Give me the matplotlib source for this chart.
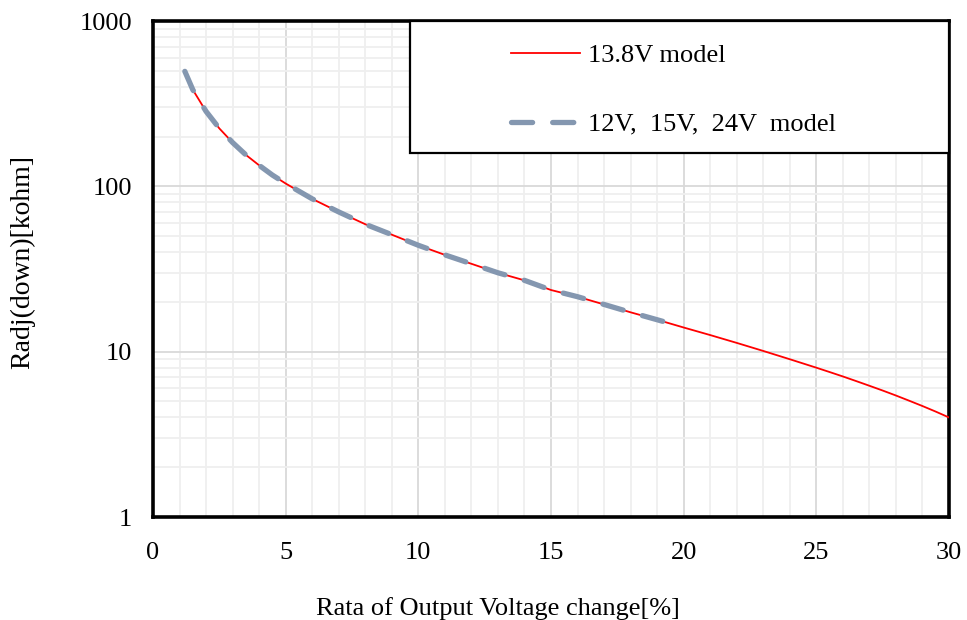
import matplotlib
matplotlib.use("Agg")
import matplotlib.pyplot as plt
from matplotlib.patches import Rectangle
from matplotlib.ticker import MultipleLocator, LogLocator, FixedLocator, NullFormatter

plt.rcParams['font.family'] = ['Liberation Serif', 'DejaVu Serif']

# Data
x_138 = [1.2, 1.5, 2, 2.5, 3, 3.5, 4, 4.5, 5, 6, 7, 8, 9, 10, 11, 12, 13, 14, 15,
         16, 17, 18, 19, 20, 21, 22, 23, 24, 25, 25.5, 26, 26.5, 27, 27.5, 28,
         28.5, 29, 29.5, 30]
r_138 = [496, 384, 284, 224, 184, 155, 134, 117, 104, 84, 70, 59, 51, 44, 38.5, 34,
         30, 27, 23.6, 21.5, 19.3, 17.3, 15.6, 14, 12.6, 11.3, 10.1, 9.0, 8.0, 7.53,
         7.08, 6.64, 6.22, 5.82, 5.43, 5.05, 4.69, 4.34, 4.0]
x_other = [1.2, 1.5, 2, 2.5, 3, 3.5, 4, 4.5, 5, 6, 7, 8, 9, 10, 11, 12, 13, 14, 15,
           16, 17, 18, 19, 19.5]
r_other = [496, 384, 284, 224, 184, 155, 134, 117, 104, 84, 70, 59, 51, 44, 38.5, 34,
           30, 27, 23.6, 21.5, 19.3, 17.3, 15.6, 14.8]

label_138 = "13.8V model"
label_other = "12V,  15V,  24V  model"
x_ticks = [0, 5, 10, 15, 20, 25, 30]
y_ticks = [1, 10, 100, 1000]

FS = 19

fig = plt.figure(figsize=(9.67, 6.2), dpi=100)
ax = fig.add_axes([153/967, 103/620, 796/967, 496/620])

ax.set_yscale('log')
ax.set_xlim(0, 30)
ax.set_ylim(1, 1000)

ax.xaxis.set_major_locator(FixedLocator(x_ticks))
ax.xaxis.set_minor_locator(MultipleLocator(1))
ax.yaxis.set_major_locator(FixedLocator(y_ticks))
ax.yaxis.set_minor_locator(LogLocator(base=10, subs=range(2, 10)))
ax.yaxis.set_minor_formatter(NullFormatter())
ax.set_yticklabels([str(v) for v in y_ticks])
ax.set_xticklabels([str(v) for v in x_ticks])

ax.grid(which='minor', color='#efefef', linewidth=1.3, zorder=0)
ax.grid(which='major', color='#d9d9d9', linewidth=1.3, zorder=0)
ax.set_axisbelow(True)
ax.tick_params(which='both', length=0)
ax.tick_params(axis='x', labelsize=FS, pad=18)
ax.tick_params(axis='y', labelsize=FS, pad=15)

for s in ax.spines.values():
    s.set_linewidth(2.6)
    s.set_color('black')

l1, = ax.plot(x_138, r_138, color='#ff0000', linewidth=1.3, zorder=3)
l2, = ax.plot(x_other, r_other, color='#8497b0', linewidth=3.8, zorder=4,
              linestyle=(0, (4.0, 3.8)), dash_capstyle='round',
              solid_capstyle='round')

# legend box
ax.add_patch(Rectangle((257/796, 364/496), 539/796, 132/496, transform=ax.transAxes,
                       facecolor='white', edgecolor='black', linewidth=1.6,
                       zorder=5, clip_on=False))
leg = ax.legend([l1, l2], [label_138, label_other], loc='upper left',
                bbox_to_anchor=((511-153)/796, (517-44)/496), frameon=False,
                fontsize=FS, handlelength=2.6, handletextpad=0.3,
                labelspacing=1.7, borderpad=0, borderaxespad=0)
leg.set_zorder(6)

fig.text(498/967, 1 - 609/620, "Rata of Output Voltage change[%]", fontsize=FS,
         ha='center', va='center')
fig.text(23/967, 1 - 262/620, "Radj(down)[kohm]", fontsize=20, rotation=90,
         ha='center', va='center')

fig.savefig("out.png", dpi=100)
